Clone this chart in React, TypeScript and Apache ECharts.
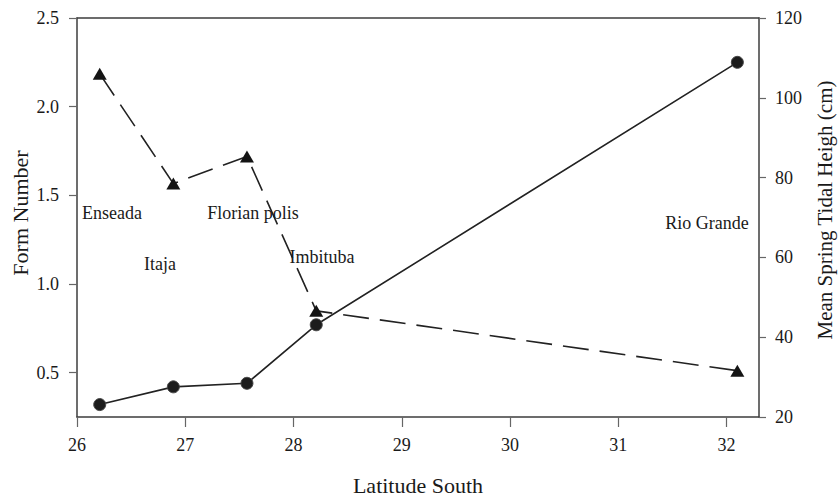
import React, { useEffect, useRef } from "react";
import * as echarts from "echarts";

const latitude = [26.21, 26.89, 27.57, 28.21, 32.1];
const formNumber = [0.32, 0.42, 0.44, 0.77, 2.25];
const tidalHeight = [106, 78.5, 85.3, 46.6, 31.6];
const sites = ["Enseada", "Itaja", "Florian polis", "Imbituba", "Rio Grande"];
const xTicks = [26, 27, 28, 29, 30, 31, 32];
const formTicks = [0.5, 1.0, 1.5, 2.0, 2.5];
const heightTicks = [20, 40, 60, 80, 100, 120];

const FONT = "Liberation Serif";
const INK = "#1a1a1a";
const AXIS = "#3c3c3c";

// label placement (pixels) for each site name
const sitePos: [number, number][] = [
  [112, 213],
  [160, 264],
  [253, 213],
  [322, 257],
  [707, 223],
];

function txt(text: string, x: number, y: number, size: number, align: string, extra: any = {}) {
  return {
    type: "text",
    x,
    y,
    ...extra,
    style: {
      text,
      fill: INK,
      font: `${size}px "${FONT}"`,
      textAlign: align,
      textVerticalAlign: "middle",
    },
    z: 10,
  };
}

export default function App() {
  const ref = useRef<HTMLDivElement>(null);
  useEffect(() => {
    if (!ref.current) return;
    const chart = echarts.init(ref.current, null, { renderer: "svg" });
    chart.setOption({
      animation: false,
      grid: { left: 77, right: 79, top: 18, bottom: 80 },
      xAxis: [
        {
          type: "value",
          position: "bottom",
          min: 26,
          max: 32.3,
          interval: 1,
          axisLine: { show: true, lineStyle: { color: AXIS, width: 1.5 } },
          splitLine: { show: false },
          axisTick: { show: true, length: 10, lineStyle: { color: "#666", width: 1.2 }, customValues: xTicks },
          axisLabel: { show: false },
        },
        {
          type: "value",
          position: "top",
          min: 26,
          max: 32.3,
          axisLine: { show: true, lineStyle: { color: AXIS, width: 1.5 } },
          splitLine: { show: false },
          axisTick: { show: false },
          axisLabel: { show: false },
        },
      ],
      yAxis: [
        {
          type: "value",
          position: "left",
          min: 0.25,
          max: 2.5,
          interval: 0.25,
          axisLine: { show: true, lineStyle: { color: AXIS, width: 1.5 } },
          splitLine: { show: false },
          axisTick: { show: true, length: 8, lineStyle: { color: "#666", width: 1.2 }, customValues: formTicks },
          axisLabel: { show: false },
        },
        {
          type: "value",
          position: "right",
          min: 20,
          max: 120,
          interval: 20,
          axisLine: { show: true, lineStyle: { color: AXIS, width: 1.5 } },
          splitLine: { show: false },
          axisTick: { show: true, length: 7, lineStyle: { color: "#666", width: 1.2 }, customValues: heightTicks },
          axisLabel: { show: false },
        },
      ],
      series: [
        {
          name: "Form Number",
          type: "line",
          yAxisIndex: 0,
          data: latitude.map((x, i) => [x, formNumber[i]]),
          symbol: "circle",
          symbolSize: 12,
          itemStyle: { color: "#1c1c1c", borderColor: "#444", borderWidth: 1 },
          lineStyle: { color: "#222", width: 1.6 },
          z: 3,
        },
        {
          name: "Mean Spring Tidal Height",
          type: "line",
          yAxisIndex: 1,
          data: latitude.map((x, i) => [x, tidalHeight[i]]),
          symbol: "triangle",
          symbolSize: [14, 12],
          itemStyle: { color: "#141414" },
          lineStyle: { color: "#222", width: 1.6, type: [26, 11] },
          z: 4,
        },
      ],
    });

    // tick labels placed through the chart's own axis scales
    const px = (v: number) => chart.convertToPixel({ xAxisIndex: 0 }, v) as number;
    const pyL = (v: number) => chart.convertToPixel({ yAxisIndex: 0 }, v) as number;
    const pyR = (v: number) => chart.convertToPixel({ yAxisIndex: 1 }, v) as number;
    const axisBottom = pyR(20);
    const axisLeft = px(26);
    const axisRight = px(32.3);

    const tickLabels = [
      ...xTicks.map((v) => txt(String(v), px(v), axisBottom + 28, 18, "center")),
      ...formTicks.map((v) => txt(v.toFixed(1), axisLeft - 18, pyL(v), 18, "right")),
      ...heightTicks.map((v) => txt(String(v), axisRight + 16, pyR(v), 18, "left")),
    ];

    chart.setOption({
      graphic: [
        ...tickLabels,
        ...sites.map((s, i) => txt(s, sitePos[i][0], sitePos[i][1], 18, "center")),
        txt("Latitude South", 418, 485, 22, "center"),
        txt("Form Number", 20, 213, 22, "center", { rotation: Math.PI / 2 }),
        txt("Mean Spring Tidal Heigh (cm)", 825, 210, 21, "center", { rotation: Math.PI / 2 }),
      ],
    });
    return () => chart.dispose();
  }, []);
  return (
    <div
      ref={ref}
      style={{ position: "fixed", left: 0, top: 0, width: 838, height: 497, background: "#fff" }}
    />
  );
}
